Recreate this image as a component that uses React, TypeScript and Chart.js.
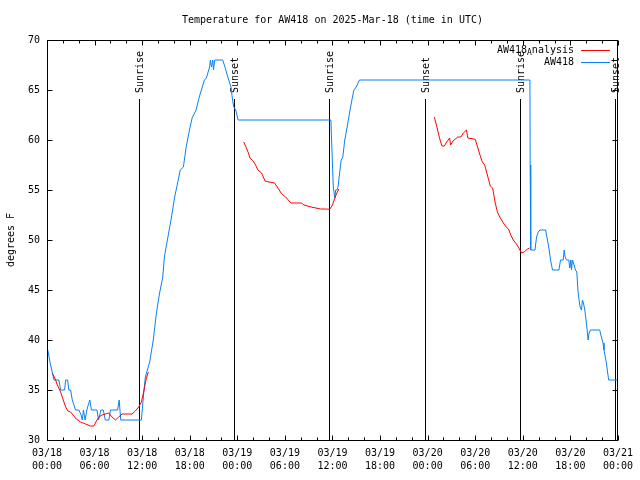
import { useEffect, useRef } from "react";
import { Chart, registerables } from "chart.js";

Chart.register(...registerables);

const FONT = "DejaVu Sans Mono";
const chartTitle = "Temperature for AW418 on 2025-Mar-18 (time in UTC)";
const yAxisTitle = "degrees F";
const dayLabels = ["03/18", "03/19", "03/20", "03/21"];
const seriesNames = ["AW418", "Analysis"]; // rendered as AW418_Analysis (subscript A)
const stationName = "AW418";

// Hours since 2025-03-18 00:00 UTC
const sunriseHours = [11.6, 35.6, 59.6];
const sunsetHours = [23.55, 47.65, 71.6];
const sunLineTop = 64.1;

const blueHours = [
  0.1, 0.4, 0.6, 0.88, 1.5, 1.72, 2.22, 2.35, 2.6, 2.76, 2.98, 3.19, 3.6, 4.02, 4.3, 4.45, 4.6, 4.8, 5.03, 5.2, 5.4,
  5.6, 6.3, 6.5, 6.8, 7.1, 7.35, 7.8, 8.0, 8.9, 9.1, 9.3, 11.9, 12.2, 12.4, 12.95, 13.4, 13.8, 14.2, 14.6, 14.8,
  15.25, 15.7, 16.1, 16.5, 16.8, 17.2, 17.55, 17.97, 18.3, 18.8, 19.2, 19.85, 20.1, 20.5, 20.6, 20.75, 20.9, 21.0,
  21.15, 22.15, 22.45, 22.8, 23.0, 23.2, 23.4, 23.55, 23.8, 24.1, 35.8, 35.85, 35.97, 36.1, 36.3, 36.4, 36.55,
  36.7, 36.9, 37.1, 37.3, 37.55, 37.85, 38.15, 38.45, 38.7, 39.0, 39.4, 60.9, 60.93, 61.0, 61.53, 61.74, 61.95,
  62.16, 62.87, 63.12, 63.33, 63.5, 63.75, 64.55, 64.76, 65.09, 65.22, 65.34, 65.51, 65.8, 65.93, 66.06, 66.14,
  66.27, 66.47, 66.64, 66.81, 66.98, 67.1, 67.23, 67.4, 67.52, 67.65, 67.82, 68.02, 68.15, 68.23, 68.36, 68.53,
  69.7, 69.91, 70.12, 70.24, 70.41, 70.54, 70.66, 70.83, 72.0,
];
const blueTemps = [
  39, 37.7, 37, 36, 36, 35, 35, 36, 36, 35, 35, 34, 33, 33, 32.5, 32, 33, 32, 33, 33.5, 34,
  33, 33, 32, 33, 33, 32, 32, 33, 33, 34, 32, 32, 34.7, 36.3, 37.8, 40, 42.7, 44.7, 46.3, 48.3,
  50.3, 52.3, 54.3, 55.8, 57, 57.3, 59.3, 61, 62.2, 63, 64.3, 66, 66.2, 67.3, 68, 67.3, 68, 67,
  68, 68, 67.3, 66.3, 65.8, 65.3, 64, 63.3, 63, 62, 62, 60.8, 58.2, 55.3, 54.2, 55, 55,
  55.3, 56.7, 58, 58.3, 60, 61.3, 62.7, 64, 65, 65.3, 66, 66, 57.5, 49, 49, 50.3, 50.8,
  51, 51, 50, 49, 48, 47, 47, 48, 48, 49, 48.3, 48, 48, 47.2, 48, 47,
  48, 47.5, 47, 46.8, 44.7, 44, 43.3, 43, 44, 43.7, 43, 41.7, 40.7, 40, 40.7, 41,
  41, 40.3, 39.7, 39, 38.3, 37.7, 37, 36, 36,
];

const redHours1 = [
  0.67, 1.09, 1.3, 1.72, 2.05, 2.35, 2.64, 2.98, 3.39, 3.69, 4.23, 4.86, 5.49, 5.9, 6.24, 6.53, 6.95, 7.37, 7.79,
  8.2, 8.63, 9.05, 9.47, 10.72, 11.14, 11.56, 11.9, 12.19, 12.48, 12.73, 12.8,
];
const redTemps1 = [
  36.7, 36, 35.5, 34.8, 34, 33.3, 32.9, 32.8, 32.4, 32.1, 31.8, 31.6, 31.4, 31.4, 31.9, 32.3, 32.5, 32.6, 32.7,
  32.3, 32.0, 32.3, 32.6, 32.6, 32.9, 33.3, 33.8, 34.8, 36, 36.7, 36.8,
];
const redHours2 = [
  24.8, 25.1, 25.4, 25.6, 26.0, 26.3, 26.6, 27.06, 27.5, 28.0, 28.7, 29.2, 29.6, 30.1, 30.75, 31.4, 32.1, 32.4,
  33.3, 34.5, 35.15, 35.65, 36.0, 36.3, 36.55, 36.8,
];
const redTemps2 = [
  59.8, 59.3, 58.7, 58.2, 57.9, 57.5, 57.0, 56.7, 55.9, 55.8, 55.7, 55.1, 54.6, 54.3, 53.7, 53.7, 53.7, 53.5,
  53.3, 53.1, 53.1, 53.07, 53.5, 54.2, 54.7, 55.1,
];
const redHours3 = [
  48.84, 49.2, 49.5, 49.8, 50.1, 50.4, 50.77, 50.9, 51.2, 51.8, 52.2, 52.5, 52.9, 53.07, 54.0, 54.3, 54.6, 54.9,
  55.2, 55.6, 55.9, 56.2, 56.5, 56.8, 57.1, 57.55, 57.9, 58.2, 58.48, 58.8, 59.2, 59.5, 59.85, 60.17, 60.55, 60.85,
];
const redTemps3 = [
  62.3, 61.2, 60.2, 59.4, 59.4, 59.8, 60.2, 59.5, 59.9, 60.3, 60.3, 60.7, 61.0, 60.2, 60.07, 59.3, 58.5, 57.8,
  57.5, 56.3, 55.4, 55.2, 53.8, 52.8, 52.3, 51.7, 51.3, 51.1, 50.5, 50, 49.6, 49.2, 48.7, 48.8, 49.07, 49.2,
];

const RED = "#ff0000";
const BLUE = "#0a80f5";

function pts(hs: number[], ts: number[]) {
  return hs.map((h, i) => ({ x: h, y: ts[i] as number | null }));
}

const decor = {
  id: "decor",
  beforeDatasetsDraw(chart: any) {
    const { ctx, chartArea: a, scales } = chart;
    const x = scales.x;
    const y = scales.y;
    ctx.save();
    ctx.strokeStyle = "#000";
    ctx.fillStyle = "#000";
    ctx.lineWidth = 1;
    ctx.font = `10px "${FONT}"`;
    const top = Math.round(y.getPixelForValue(sunLineTop));
    const events: [number, string][] = [
      ...sunriseHours.map((h) => [h, "Sunrise"] as [number, string]),
      ...sunsetHours.map((h) => [h, "Sunset"] as [number, string]),
    ];
    for (const [h, label] of events) {
      const px = Math.round(x.getPixelForValue(h)) + 0.5;
      ctx.beginPath();
      ctx.moveTo(px, top);
      ctx.lineTo(px, a.bottom);
      ctx.stroke();
      ctx.save();
      ctx.translate(px + 1, top - 6);
      ctx.rotate(-Math.PI / 2);
      ctx.textAlign = "left";
      ctx.textBaseline = "middle";
      ctx.fillText(label, 0, 0);
      ctx.restore();
    }
    ctx.restore();
  },
  afterDraw(chart: any) {
    const { ctx, chartArea: a, scales } = chart;
    const x = scales.x;
    const y = scales.y;
    const L = Math.floor(a.left) + 0.5;
    const R = Math.floor(a.right) + 0.5;
    const T = Math.floor(a.top) + 0.5;
    const B = Math.floor(a.bottom) + 0.5;
    ctx.save();
    ctx.strokeStyle = "#000";
    ctx.fillStyle = "#000";
    ctx.lineWidth = 1;
    ctx.strokeRect(L, T, R - L, B - T);
    ctx.beginPath();
    for (let h = 0; h <= 72; h += 2) {
      const px = Math.round(x.getPixelForValue(h)) + 0.5;
      const len = h % 6 === 0 ? 5 : 3;
      ctx.moveTo(px, B);
      ctx.lineTo(px, B - len);
      ctx.moveTo(px, T);
      ctx.lineTo(px, T + len);
    }
    for (const t of y.ticks) {
      const py = Math.round(y.getPixelForValue(t.value)) + 0.5;
      ctx.moveTo(L, py);
      ctx.lineTo(L + 5, py);
      ctx.moveTo(R, py);
      ctx.lineTo(R - 5, py);
    }
    ctx.stroke();

    // title
    ctx.font = `10px "${FONT}"`;
    ctx.textAlign = "center";
    ctx.textBaseline = "middle";
    ctx.fillText(chartTitle, (a.left + a.right) / 2, 20);

    // legend
    const rx = 574;
    const rows: { y: number; color: string; parts: { t: string; sub?: boolean }[] }[] = [
      {
        y: 50,
        color: RED,
        parts: [{ t: seriesNames[0] }, { t: seriesNames[1].slice(0, 1), sub: true }, { t: seriesNames[1].slice(1) }],
      },
      { y: 62, color: BLUE, parts: [{ t: stationName }] },
    ];
    ctx.textAlign = "left";
    for (const row of rows) {
      let total = 0;
      const widths = row.parts.map((p) => {
        ctx.font = p.sub ? `8px "${FONT}"` : `10px "${FONT}"`;
        const w = ctx.measureText(p.t).width;
        total += w;
        return w;
      });
      let cx = rx - total;
      row.parts.forEach((p, i) => {
        ctx.font = p.sub ? `8px "${FONT}"` : `10px "${FONT}"`;
        ctx.fillStyle = "#000";
        ctx.fillText(p.t, cx, row.y + (p.sub ? 3 : 0));
        cx += widths[i];
      });
      ctx.strokeStyle = row.color;
      ctx.beginPath();
      ctx.moveTo(581, row.y + 0.5);
      ctx.lineTo(610, row.y + 0.5);
      ctx.stroke();
    }
    ctx.restore();
  },
};

export default function App() {
  const ref = useRef<HTMLCanvasElement | null>(null);
  useEffect(() => {
    document.body.style.margin = "0";
    const canvas = ref.current;
    if (!canvas) return;
    const redData = [
      ...pts(redHours1, redTemps1),
      { x: 18, y: null },
      ...pts(redHours2, redTemps2),
      { x: 42, y: null },
      ...pts(redHours3, redTemps3),
    ];
    const tickFont = { family: FONT, size: 10, lineHeight: 1.3 };
    const chart = new Chart(canvas, {
      type: "line",
      data: {
        datasets: [
          {
            label: "AW418_Analysis",
            data: redData as any,
            borderColor: RED,
            borderWidth: 1,
            pointRadius: 0,
            spanGaps: false,
            tension: 0,
          },
          {
            label: "AW418",
            data: pts(blueHours, blueTemps) as any,
            borderColor: BLUE,
            borderWidth: 1,
            pointRadius: 0,
            tension: 0,
          },
        ],
      },
      options: {
        responsive: false,
        animation: false,
        devicePixelRatio: 1,
        layout: { padding: { top: 40, right: 19, left: 0, bottom: 0 } },
        plugins: { legend: { display: false }, tooltip: { enabled: false }, title: { display: false } },
        scales: {
          x: {
            type: "linear",
            min: 0,
            max: 72,
            afterFit: (s: any) => {
              s.height = 40;
            },
            grid: { display: false, drawTicks: false },
            border: { display: false },
            ticks: {
              stepSize: 6,
              autoSkip: false,
              maxRotation: 0,
              minRotation: 0,
              padding: 7,
              color: "#000",
              font: tickFont,
              callback: (v: any) => {
                const h = Number(v);
                const d = Math.floor(h / 24);
                const hh = h % 24;
                return [dayLabels[d], `${String(hh).padStart(2, "0")}:00`];
              },
            },
          },
          y: {
            min: 30,
            max: 70,
            afterFit: (s: any) => {
              s.width = 47;
            },
            grid: { display: false, drawTicks: false },
            border: { display: false },
            ticks: { stepSize: 5, padding: 7, color: "#000", font: tickFont },
            title: {
              display: true,
              text: yAxisTitle,
              color: "#000",
              font: { family: FONT, size: 10 },
              padding: { top: 5, bottom: 0 },
            },
          },
        },
      },
      plugins: [decor],
    });
    return () => chart.destroy();
  }, []);
  return <canvas ref={ref} width={640} height={480} style={{ display: "block" }} />;
}
